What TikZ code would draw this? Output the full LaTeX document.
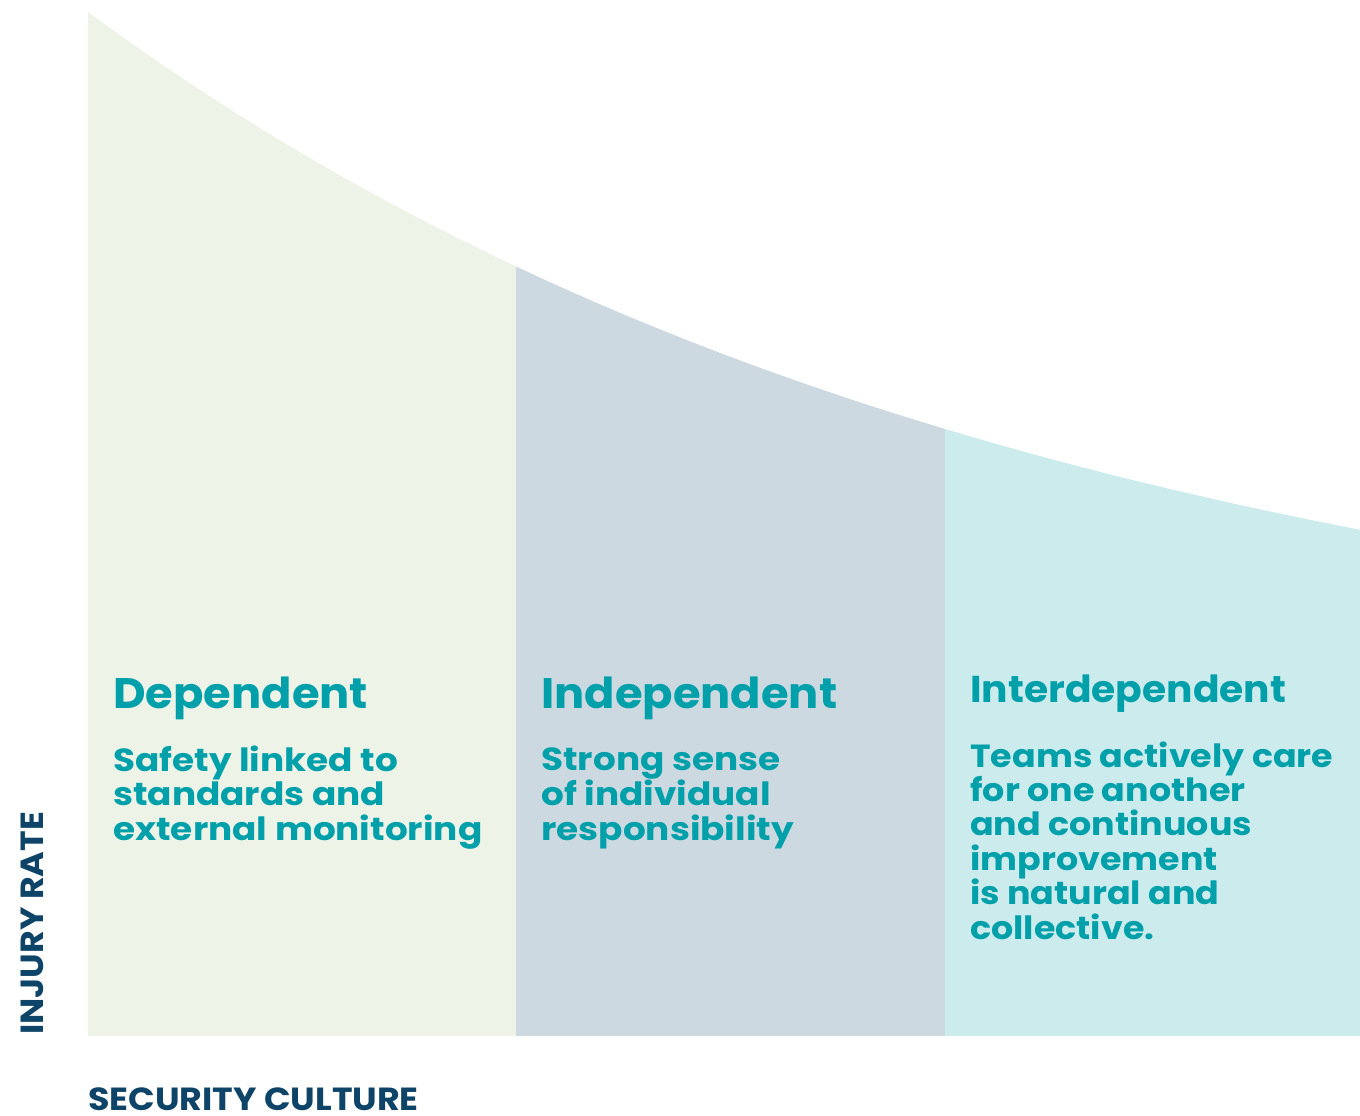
\documentclass[tikz,border=0pt]{standalone}
\usepackage{fontspec}
\setmainfont{Poppins}
\definecolor{paleGreen}{HTML}{EDF3E7}
\definecolor{paleSlate}{HTML}{CDD9E1}
\definecolor{paleCyan}{HTML}{CCEBED}
\definecolor{tealText}{HTML}{00A0AA}
\definecolor{navyText}{HTML}{0D4468}
\begin{document}
\begin{tikzpicture}[x=0.75pt,y=-0.75pt,
  heading/.style={anchor=base west,inner sep=0pt,text=tealText,font=\fontsize{32}{34}\selectfont\bfseries\addfontfeatures{FakeStretch=1.05}},
  blurb/.style={anchor=base west,inner sep=0pt,text=tealText,align=left,font=\fontsize{24}{25.6}\selectfont\bfseries\addfontfeatures{FakeStretch=1.12}},
  axislabel/.style={inner sep=0pt,text=navyText,font=\fontsize{24}{26}\selectfont\bfseries\addfontfeatures{FakeStretch=1.09}}]
\useasboundingbox (0,0) rectangle (1360,1115);
% injury-rate curve bounding the three bands
\begin{scope}
  \clip (88,1036) -- plot[domain=88:1360,samples=120,smooth] (\x,{12+701.6*(1-exp(-0.00105*(\x-88)))}) -- (1360,1036) -- cycle;
  \fill[paleGreen] (88,0) rectangle (516,1036);
  \fill[paleSlate] (516,0) rectangle (945,1036);
  \fill[paleCyan] (945,0) rectangle (1360,1036);
\end{scope}
% stage titles and descriptions (descriptions anchored on their last line)
\node[heading] (dep) at (113,708) {Dependent};
\node[blurb] (depT) at (113,840) {Safety linked to\\standards and\\external monitoring};
\node[heading] (ind) at (541,708) {Independent};
\node[blurb] (indT) at (541,840) {Strong sense\\of individual\\responsibility};
\node[heading,font=\fontsize{28}{30}\selectfont\bfseries\addfontfeatures{FakeStretch=1.05}] (inter) at (970,702) {Interdependent};
\node[blurb,font=\fontsize{24}{25.8}\selectfont\bfseries\addfontfeatures{FakeStretch=1.09}] (interT) at (970,939) {Teams actively care\\for one another\\and continuous\\improvement\\is natural and\\collective.};
% axis titles
\node[axislabel,rotate=90,anchor=base west] (yax) at (43,1035) {INJURY RATE};
\node[axislabel,anchor=base west] (xax) at (88,1110) {SECURITY CULTURE};
\end{tikzpicture}
\end{document}
